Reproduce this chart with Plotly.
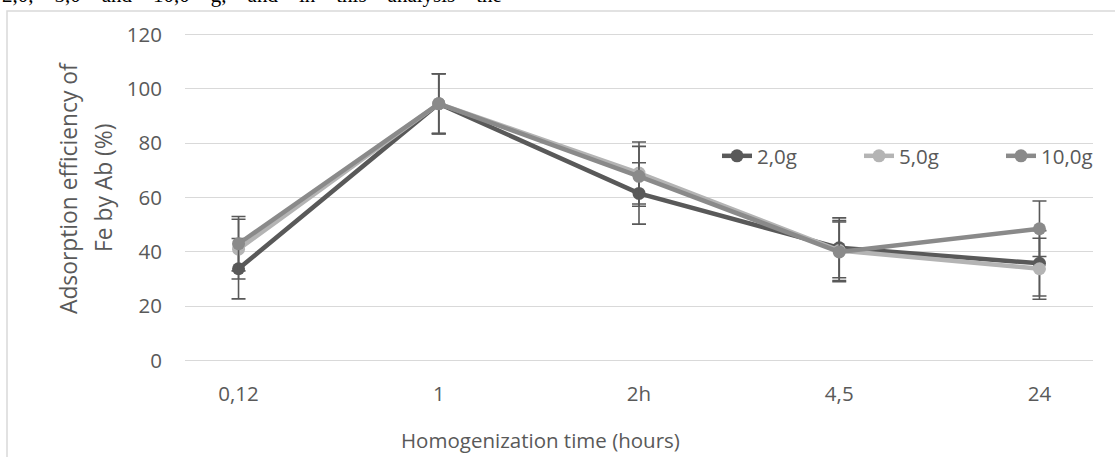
import plotly.graph_objects as go

categories = ["0,12", "1", "2h", "4,5", "24"]
series_names = ["2,0g", "5,0g", "10,0g"]
values_2g = [33.8, 94.5, 61.5, 41.5, 35.8]
values_5g = [41.0, 94.5, 69.0, 40.5, 33.8]
values_10g = [43.0, 94.5, 67.8, 40.0, 48.5]
err_2g = [11.1, 11.0, 11.3, 11.0, 12.0]
err_5g = [11.0, 11.0, 11.4, 11.0, 11.2]
err_10g = [10.0, 11.0, 11.0, 11.0, 10.2]
y_ticks = [0, 20, 40, 60, 80, 100, 120]

colors = ["#595959", "#b4b4b4", "#8a8a8a"]
err_color = "#595959"
FONT = "Open Sans"
FS = 20.5
FS_YT = 22.8

W, H = 1115, 457
L, R, T, B = 185, 22, 33, 95
PW = W - L - R
PH = H - T - B


def px_x(px):
    return (px - L) / PW


def px_y(py):
    return (H - B - py) / PH


fig = go.Figure()
for name, vals, errs, col in zip(series_names, [values_2g, values_5g, values_10g],
                                 [err_2g, err_5g, err_10g], colors):
    fig.add_trace(go.Scatter(
        x=categories, y=vals, name=name, mode="lines+markers",
        line=dict(color=col, width=4.5),
        marker=dict(color=col, size=13, symbol="circle"),
        error_y=dict(type="data", array=errs, visible=True, color=err_color,
                     thickness=1.6, width=7),
    ))

SP = "&nbsp;" * 4
top_text = SP.join(["2,0,", "5,0", "and", "10,0", "g,", "and", "in", "this", "analysis", "the"])

fig.update_layout(
    width=W, height=H,
    margin=dict(l=L, r=R, t=T, b=B, autoexpand=False),
    paper_bgcolor="white", plot_bgcolor="white",
    font=dict(family=FONT, size=FS, color="#595959"),
    showlegend=True,
    legend=dict(orientation="h", x=px_x(717), xanchor="left",
                y=px_y(156), yanchor="middle",
                font=dict(family=FONT, size=FS, color="#595959"),
                bgcolor="rgba(0,0,0,0)", itemwidth=30, tracegroupgap=0,
                entrywidth=97, entrywidthmode="pixels"),
    xaxis=dict(type="category", showgrid=False, zeroline=False, showline=False,
               ticks="", ticklabelstandoff=17,
               tickfont=dict(family=FONT, size=FS, color="#595959")),
    yaxis=dict(range=[-0.5, 120.5], tickvals=y_ticks, showgrid=True,
               gridcolor="#d9d9d9", gridwidth=1.2, zeroline=False, showline=False,
               ticks="", ticklabelstandoff=22,
               tickfont=dict(family=FONT, size=FS, color="#595959")),
    shapes=[dict(type="rect", xref="paper", yref="paper",
                 x0=px_x(7), x1=px_x(1125), y0=px_y(470), y1=px_y(11),
                 line=dict(color="#d9d9d9", width=1.5), fillcolor="rgba(0,0,0,0)",
                 layer="below")],
    annotations=[
        dict(text="Homogenization time (hours)", xref="paper", yref="paper",
             x=px_x(540), y=px_y(440), xanchor="center", yanchor="middle",
             showarrow=False, font=dict(family=FONT, size=FS, color="#595959")),
        dict(text="Adsorption efficiency of", xref="paper", yref="paper",
             x=px_x(68), y=px_y(188), xanchor="center", yanchor="middle",
             textangle=-90, showarrow=False,
             font=dict(family=FONT, size=FS_YT, color="#595959")),
        dict(text="Fe by Ab (%)", xref="paper", yref="paper",
             x=px_x(103), y=px_y(188), xanchor="center", yanchor="middle",
             textangle=-90, showarrow=False,
             font=dict(family=FONT, size=FS_YT, color="#595959")),
        dict(text=top_text,
             xref="paper", yref="paper", x=px_x(0), y=px_y(9),
             xanchor="left", yanchor="bottom", showarrow=False,
             font=dict(family="Liberation Serif", size=21, color="#000000")),
    ],
)

fig.write_html("out.html")
